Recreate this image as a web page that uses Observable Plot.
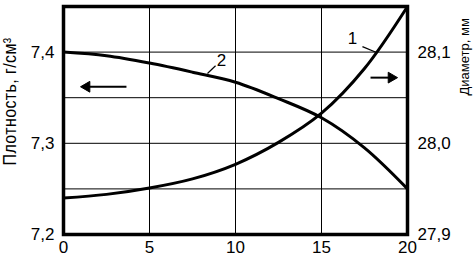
<!DOCTYPE html>
<html>
<head>
<meta charset="utf-8">
<script src="https://cdn.jsdelivr.net/npm/d3@7"></script>
<script src="https://cdn.jsdelivr.net/npm/@observablehq/plot@0.6"></script>
<style>
  html, body { margin: 0; padding: 0; background: #fff; }
  #chart svg { display: block; }
</style>
</head>
<body>
<div id="chart"></div>
<script>
// x values (no unit on the x axis)
const xs = [0, 2.5, 5, 7.5, 10, 12.5, 15, 17.5, 20];
// Curve 2: density, g/cm³ (left axis)
const density = [7.400, 7.396, 7.388, 7.378, 7.367, 7.349, 7.328, 7.295, 7.250];
// Curve 1: diameter, mm (right axis)
const diameter = [27.940, 27.944, 27.951, 27.961, 27.977, 28.001, 28.033, 28.082, 28.150];

const xTicks = [0, 5, 10, 15, 20];
const densityTicks = [7.2, 7.3, 7.4];
const diameterTicks = [27.9, 28.0, 28.1];
const densityGrid = [7.25, 7.3, 7.35, 7.4];
const xGrid = [5, 10, 15];
const densityTitle = "Плотность, г/см³";
const diameterTitle = "Диаметр, мм";

// right axis shares the left scale: diameter = density + OFFSET
const OFFSET = 20.7;
const toLeft = d => d - OFFSET;
const fmt = v => v.toFixed(1).replace(".", ",");

const densityData = xs.map((x, i) => ({x, y: density[i]}));
const diameterData = xs.map((x, i) => ({x, y: toLeft(diameter[i])}));

// annotation items (labels of curves and direction arrows)
const curveLabels = [
  {x: 16.80, y: 7.415, t: "1"},
  {x: 9.19, y: 7.391, t: "2"}
];
const leaders = [
  {x1: 17.38, y1: 7.406, x2: 18.2, y2: 7.3996},
  {x1: 8.37, y1: 7.3765, x2: 8.84, y2: 7.385}
];
const arrowShafts = [
  {x1: 1.2, x2: 3.66, y: 7.362},
  {x1: 17.85, x2: 19.1, y: 7.372}
];
const arrowHeads = [
  {x: 1.35, y: 7.362, r: -90},
  {x: 19.06, y: 7.372, r: 90}
];

const FONT = "'Liberation Sans Narrow', 'Liberation Sans', Arial, sans-serif";

const chart = Plot.plot({
  width: 473,
  height: 257,
  marginLeft: 63,
  marginRight: 66,
  marginTop: 6,
  marginBottom: 23,
  style: {fontFamily: FONT, fontSize: "17px", color: "#000", background: "#fff", overflow: "visible"},
  x: {domain: [0, 20]},
  y: {domain: [7.2, 7.45]},
  marks: [
    Plot.ruleX(xGrid, {stroke: "#000", strokeWidth: 1}),
    Plot.ruleY(densityGrid, {stroke: "#000", strokeWidth: 1}),
    Plot.line(densityData, {x: "x", y: "y", curve: "catmull-rom", stroke: "#000", strokeWidth: 3}),
    Plot.line(diameterData, {x: "x", y: "y", curve: "catmull-rom", stroke: "#000", strokeWidth: 3}),
    Plot.link(leaders, {x1: "x1", y1: "y1", x2: "x2", y2: "y2", stroke: "#000", strokeWidth: 1.2}),
    Plot.text(curveLabels, {x: "x", y: "y", text: "t", fontSize: 17, fill: "#000"}),
    Plot.link(arrowShafts, {x1: "x1", x2: "x2", y1: "y", y2: "y", stroke: "#000", strokeWidth: 2}),
    Plot.dot(arrowHeads, {x: "x", y: "y", rotate: "r", symbol: "triangle", r: 4, fill: "#000", stroke: "#000", strokeWidth: 1}),
    Plot.frame({stroke: "#000", strokeWidth: 3.5}),
    Plot.axisX(xTicks, {tickSize: 0, tickPadding: 6, fontSize: 17, tickFormat: d => String(d)}),
    Plot.axisY(densityTicks, {anchor: "left", tickSize: 0, tickPadding: 9, fontSize: 17, tickFormat: fmt, label: null}),
    Plot.axisY(diameterTicks.map(toLeft), {anchor: "right", tickSize: 0, tickPadding: 10, fontSize: 17, tickFormat: v => fmt(v + OFFSET), label: null}),
    Plot.text([densityTitle], {text: d => d, frameAnchor: "bottom-left", dx: -48, dy: -69, rotate: -90, textAnchor: "start", fontSize: 16, fill: "#000"}),
    Plot.text([diameterTitle], {text: d => d, frameAnchor: "top-right", dx: 52, dy: 89, rotate: -90, textAnchor: "start", fontSize: 13, fill: "#000"})
  ]
});

document.getElementById("chart").appendChild(chart);

// the scanned original has slightly spaced, tall glyphs in the left axis title
d3.select(chart).selectAll("text").each(function() {
  const sel = d3.select(this);
  if (this.textContent === densityTitle) {
    sel.attr("letter-spacing", "0.4px");
    sel.attr("transform", (sel.attr("transform") || "") + " scale(1,1.1)");
  }
});
</script>
</body>
</html>
